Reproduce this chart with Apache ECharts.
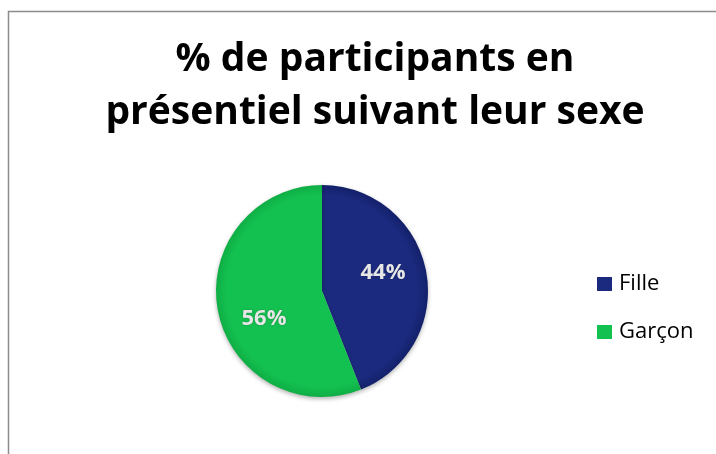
<!DOCTYPE html>
<html>
<head>
<meta charset="utf-8">
<style>
  html, body { margin: 0; padding: 0; background: #fff; }
  #chart { width: 716px; height: 454px; }
</style>
</head>
<body>
<div id="chart"></div>
<script src="https://cdn.jsdelivr.net/npm/echarts@6/dist/echarts.min.js"></script>
<script>
    // données
    var categories = ['Fille', 'Garçon'];
    var values = [44, 56];
    var colors = ['#1b2a7e', '#13c150'];
    var edgeColors = ['#13206a', '#0fae45'];
    var titre = '% de participants en\nprésentiel suivant leur sexe';

    var myChart = echarts.init(document.getElementById('chart'));

    var cx = 322, cy = 291, r = 106;

    // léger dégradé vers le bord pour l'effet relief (coordonnées globales)
    function degrade(i) {
        return new echarts.graphic.RadialGradient(cx, cy, r, [
            { offset: 0, color: colors[i] },
            { offset: 0.9, color: colors[i] },
            { offset: 1, color: edgeColors[i] }
        ], true);
    }

    var labelOffsets = [[6, -8], [-3, 17]];

    var data = categories.map(function (name, i) {
        return {
            name: name,
            value: values[i],
            itemStyle: { color: degrade(i) },
            label: { offset: labelOffsets[i] }
        };
    });

    var option = {
        backgroundColor: '#fff',
        animation: false,
        graphic: [{
            type: 'rect',
            shape: { x: 8.5, y: 11.5, width: 760, height: 500 },
            style: { fill: 'none', stroke: '#8c8c8c', lineWidth: 1.5 },
            silent: true
        }, {
            type: 'text',
            x: 375,
            y: 86,
            style: {
                text: titre,
                fontFamily: 'Open Sans',
                fontWeight: 'bold',
                fontSize: 39,
                lineHeight: 53,
                fill: '#000',
                align: 'center',
                verticalAlign: 'middle'
            }
        }],
        legend: {
            orient: 'vertical',
            left: 597,
            top: 273,
            padding: 0,
            itemWidth: 15,
            itemHeight: 14,
            itemGap: 26,
            icon: 'rect',
            data: categories.map(function (c, i) {
                return { name: c, itemStyle: { color: colors[i] } };
            }),
            textStyle: { fontFamily: 'Open Sans', fontSize: 22, color: '#000', padding: [0, 0, 0, 2] }
        },
        series: [{
            type: 'pie',
            center: [cx, cy],
            radius: r,
            startAngle: 90,
            clockwise: true,
            data: data,
            itemStyle: {
                shadowBlur: 4,
                shadowOffsetY: 2,
                shadowColor: 'rgba(0,0,0,0.3)'
            },
            label: {
                show: true,
                position: 'inside',
                formatter: '{d}%',
                fontFamily: 'Open Sans',
                fontWeight: 'bold',
                fontSize: 22,
                color: '#e6e6e6',
                textShadowColor: 'rgba(0,0,0,0.3)',
                textShadowBlur: 2
            },
            labelLine: { show: false },
            emphasis: { disabled: true }
        }]
    };

    myChart.setOption(option);
</script>
</body>
</html>
